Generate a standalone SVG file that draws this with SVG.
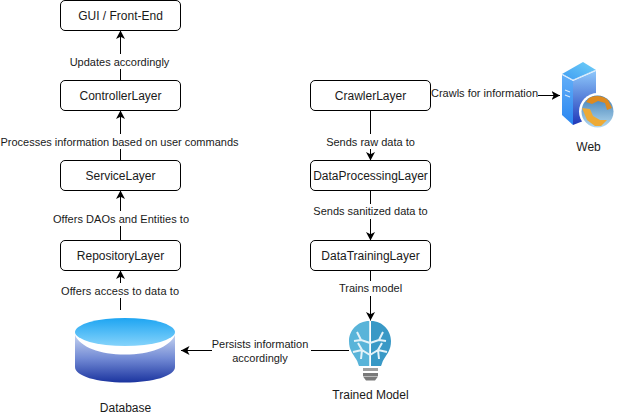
<svg xmlns="http://www.w3.org/2000/svg" width="617" height="416" viewBox="0 0 617 416">
<style>
text{font-family:"Liberation Sans",Arial,Helvetica,sans-serif;font-size:12px;fill:#1a1a1a;text-anchor:middle}
#edge-labels text{font-size:11px}
.n rect{fill:#fff;stroke:#000;stroke-width:1}
.c path{fill:none;stroke:#000;stroke-width:1;marker-end:url(#a)}
.lb{fill:#fff;stroke:none}
</style>
<defs>
<marker id="a" viewBox="0 0 9 9" markerUnits="userSpaceOnUse" markerWidth="9" markerHeight="9" refX="8.500" refY="4.500" orient="auto"><path d="M0 0L8.500 4.500L0 9L2.200 4.500Z" fill="#000"/></marker>
<linearGradient id="dbTop" x1="0" y1="0" x2="0" y2="1"><stop offset="0" stop-color="#1ea5f2"/><stop offset="1" stop-color="#85d3fb"/></linearGradient>
<linearGradient id="dbBody" x1="0" y1="0" x2="0" y2="1"><stop offset="0" stop-color="#c4d2f0"/><stop offset="0.500" stop-color="#7189d4"/><stop offset="1" stop-color="#1b349f"/></linearGradient>
<linearGradient id="srvR" x1="0" y1="0" x2="0" y2="1"><stop offset="0" stop-color="#8ec8fb"/><stop offset="1" stop-color="#2038b8"/></linearGradient>
<linearGradient id="srvL" x1="0" y1="0" x2="0" y2="1"><stop offset="0" stop-color="#62aef8"/><stop offset="1" stop-color="#2a86f0"/></linearGradient>
<linearGradient id="srvT" x1="0" y1="1" x2="1" y2="0"><stop offset="0" stop-color="#3f9cf2"/><stop offset="1" stop-color="#6fd0f8"/></linearGradient>
<linearGradient id="globe" x1="0" y1="0" x2="0" y2="1"><stop offset="0" stop-color="#3f7fb8"/><stop offset="1" stop-color="#b3d8ee"/></linearGradient>
</defs>
<g id="connectors" class="c">
<path d="M120.500 80.500V30.500"/>
<path d="M120.500 160.500V110.500"/>
<path d="M120.500 240.500V190.500"/>
<path d="M120.500 310V270.500"/>
<path d="M370.500 110.500V160.500"/>
<path d="M370.500 190.500V240.500"/>
<path d="M370.500 270.500V320.500"/>
<path d="M430.500 95.500H560"/>
<path d="M349 350.500H181"/>
</g>
<g id="edge-labels">
<rect class="lb" x="69" y="54" width="102" height="15"/><text x="119.500" y="66">Updates accordingly</text>
<rect class="lb" x="0" y="134" width="240" height="15"/><text x="119.500" y="146" textLength="238">Processes information based on user commands</text>
<rect class="lb" x="53" y="211" width="137" height="15"/><text x="121" y="223" textLength="136">Offers DAOs and Entities to</text>
<rect class="lb" x="60" y="283" width="120" height="15"/><text x="120" y="295" textLength="118">Offers access to data to</text>
<rect class="lb" x="326" y="134" width="89" height="15"/><text x="370.500" y="146">Sends raw data to</text>
<rect class="lb" x="313" y="204" width="115" height="15"/><text x="370.500" y="215">Sends sanitized data to</text>
<rect class="lb" x="338" y="281" width="65" height="15"/><text x="370.500" y="292">Trains model</text>
<rect class="lb" x="431" y="87" width="107" height="15"/><text x="484.500" y="97" textLength="107">Crawls for information</text>
<rect class="lb" x="212" y="336" width="99" height="30"/><text x="260" y="348">Persists information</text><text x="260" y="362">accordingly</text>
</g>
<g id="gui" class="n"><rect x="60.500" y="0.500" width="120" height="30" rx="4.500"/><text x="120.500" y="19.500">GUI / Front-End</text></g>
<g id="controller" class="n"><rect x="60.500" y="80.500" width="120" height="30" rx="4.500"/><text x="120.500" y="99.500">ControllerLayer</text></g>
<g id="service" class="n"><rect x="60.500" y="160.500" width="120" height="30" rx="4.500"/><text x="120.500" y="179.500">ServiceLayer</text></g>
<g id="repository" class="n"><rect x="60.500" y="240.500" width="120" height="30" rx="4.500"/><text x="120.500" y="259.500">RepositoryLayer</text></g>
<g id="crawler" class="n"><rect x="310.500" y="80.500" width="120" height="30" rx="4.500"/><text x="370.500" y="99.500">CrawlerLayer</text></g>
<g id="processing" class="n"><rect x="310.500" y="160.500" width="120" height="30" rx="4.500"/><text x="370.500" y="179.500">DataProcessingLayer</text></g>
<g id="training" class="n"><rect x="310.500" y="240.500" width="120" height="30" rx="4.500"/><text x="370.500" y="259.500">DataTrainingLayer</text></g>
<g id="database">
<path d="M75 335V367C75 376 97 382.500 125 382.500S175 376 175 367V335C170 347 150 354.500 125 354.500S80 347 75 335Z" fill="url(#dbBody)"/>
<ellipse cx="125" cy="332" rx="50" ry="14" fill="url(#dbTop)"/>
<text x="125.500" y="412">Database</text>
</g>
<g id="model">
<path d="M369.500 321C357 321 349 331 349 341C349 350 353 354 356 359C358 362 358 364 359 366H369.500Z" fill="#59b4d9"/>
<path d="M371 321C383 321 391 331 391 341C391 350 387 354 384 359C382 362 382 364 381 366H371Z" fill="#3999c6"/>
<path d="M370.200 321V366" fill="none" stroke="#fff" stroke-width="1.500"/>
<path d="M370 343L361 340L357 332M361 340L354 341M370 355L362 350L358 343M362 350L361 359M362 350L353 352M370 343L379 340L383 332M379 340L386 341M370 355L378 350L382 343M378 350L379 359M378 350L387 352" fill="none" stroke="#e4f3f9" stroke-width="2"/>
<rect x="363" y="368" width="15" height="3" fill="#a0a0a0"/>
<rect x="363" y="373" width="15" height="3" fill="#7a7a7a"/>
<path d="M363 376.500H378L375 380.500H366Z" fill="#7a7a7a"/>
<text x="370.500" y="399">Trained Model</text>
</g>
<g id="web">
<path d="M562 74L583 62L596 70L573 80Z" fill="url(#srvT)"/>
<path d="M573 81L596 71V116L573 125Z" fill="url(#srvR)"/>
<path d="M562 75L573 81V125L562 115Z" fill="url(#srvL)"/>
<path d="M562 74L573 80L596 70" fill="none" stroke="#cfe6fb" stroke-width="1"/>
<path d="M565 90L570 92M565 95L570 97" stroke="#d5e8fb" stroke-width="1.200"/>
<circle cx="597.500" cy="111.500" r="18.500" fill="#fff"/>
<circle cx="597.500" cy="111.500" r="16" fill="url(#globe)"/>
<path d="M589 98C594 95 603 95 608 100L612 108L607 110L605 103L598 101L592 104L586 102Z" fill="#dd8a1f"/>
<path d="M582 108L590 109L593 116L600 120L607 120L601 126L595 126L587 120Z" fill="#edaa36"/>
<text x="588.500" y="151">Web</text>
</g>
</svg>
